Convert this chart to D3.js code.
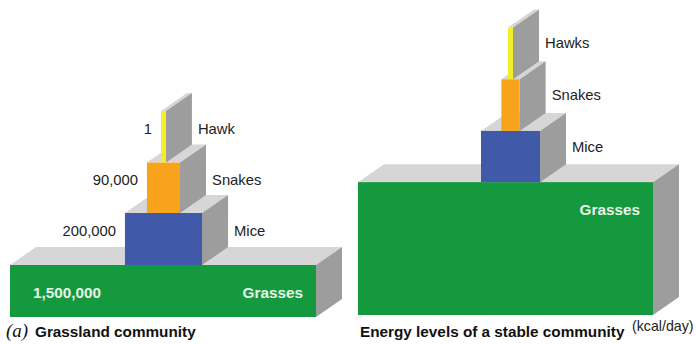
<!DOCTYPE html>
<html>
<head>
<meta charset="utf-8">
<script src="https://cdn.jsdelivr.net/npm/d3@7/dist/d3.min.js"></script>
<style>
  html, body { margin: 0; padding: 0; background: #fff; }
  svg { display: block; font-family: "Liberation Sans", Arial, Helvetica, sans-serif; }
</style>
</head>
<body>
<svg id="chart" width="696" height="344"></svg>
<script>
// Grassland community: numbers of organisms per trophic level
const grassLevels = ["Grasses", "Mice", "Snakes", "Hawk"];
const grassValues = [1500000, 200000, 90000, 1];
const grassBreadth = [100, 25.2, 10.8, 1.6];      // relative breadth of each tier
const grassTier = [1, 1, 0.97, 0.99];             // relative height of each tier

// Stable community: energy levels (kcal/day)
const energyLevels = ["Grasses", "Mice", "Snakes", "Hawks"];
const energyBreadth = [100, 20, 6.2, 1.7];
const energyTier = [2.57, 0.99, 1, 1];

const colors = ["#15993e", "#4159a9", "#f8a31c", "#f3ee27"];
const sideColor = "#9d9d9d";
const topColor = "#d6d6d6";
const depth = { dx: 26, dy: -18 };

const svg = d3.select("#chart");
const fmt = d3.format(",");

function drawPyramid(cfg) {
  const g = svg.append("g");
  const xw = d3.scaleLinear().domain([0, 100]).range([0, cfg.baseWidth]);
  const yh = d3.scaleLinear().domain([0, 1]).range([0, cfg.unitHeight]);

  let bottom = cfg.bottom;
  const blocks = cfg.levels.map((name, i) => {
    const w = xw(cfg.breadth[i]);
    const h = yh(cfg.tier[i]);
    const cx = i === 0 ? cfg.baseCenter : cfg.stackCenter;
    const b = { name, i, x0: cx - w / 2, x1: cx + w / 2, y0: bottom - h, y1: bottom, value: cfg.values ? cfg.values[i] : null };
    bottom -= h;
    return b;
  });

  const { dx, dy } = depth;
  blocks.forEach(b => {
    const bg = g.append("g");
    // top face
    bg.append("path")
      .attr("d", `M${b.x0},${b.y0}L${b.x0 + dx},${b.y0 + dy}L${b.x1 + dx},${b.y0 + dy}L${b.x1},${b.y0}Z`)
      .attr("fill", topColor);
    // side face
    bg.append("path")
      .attr("d", `M${b.x1},${b.y0}L${b.x1 + dx},${b.y0 + dy}L${b.x1 + dx},${b.y1 + dy}L${b.x1},${b.y1}Z`)
      .attr("fill", sideColor);
    // front face
    bg.append("rect")
      .attr("x", b.x0).attr("y", b.y0)
      .attr("width", b.x1 - b.x0).attr("height", b.y1 - b.y0)
      .attr("fill", colors[b.i]);

    if (b.i === 0) {
      const ty = b.y0 + 27;
      bg.append("text")
        .attr("x", b.x1 - 13).attr("y", ty)
        .attr("text-anchor", "end").attr("dominant-baseline", "central")
        .attr("fill", "#e8f5e8").attr("font-weight", "bold").attr("font-size", 15.3)
        .text(b.name);
      if (b.value != null) {
        bg.append("text")
          .attr("x", b.x0 + 23).attr("y", ty)
          .attr("dominant-baseline", "central")
          .attr("fill", "#e8f5e8").attr("font-weight", "bold").attr("font-size", 15.3)
          .text(fmt(b.value));
      }
    } else {
      const my = (b.y0 + b.y1) / 2 + cfg.labelShift;
      bg.append("text")
        .attr("x", b.x1 + dx + 6).attr("y", my)
        .attr("dominant-baseline", "central")
        .attr("fill", "#222").attr("font-size", 14.8)
        .text(b.name);
      if (b.value != null) {
        bg.append("text")
          .attr("x", b.x0 - 9).attr("y", my)
          .attr("text-anchor", "end").attr("dominant-baseline", "central")
          .attr("fill", "#222").attr("font-size", 14.8)
          .text(fmt(b.value));
      }
    }
  });
  return g;
}

drawPyramid({
  levels: grassLevels, values: grassValues, breadth: grassBreadth, tier: grassTier,
  baseWidth: 306, unitHeight: 52, bottom: 317, baseCenter: 163, stackCenter: 163.5,
  labelShift: -8
});

drawPyramid({
  levels: energyLevels, values: null, breadth: energyBreadth, tier: energyTier,
  baseWidth: 295, unitHeight: 51.7, bottom: 315, baseCenter: 505.5, stackCenter: 510.5,
  labelShift: -10
});

// captions
const cap1 = svg.append("text").attr("x", 6).attr("y", 337).attr("fill", "#111");
cap1.append("tspan")
  .attr("font-family", "'Liberation Serif', 'Times New Roman', serif")
  .attr("font-style", "italic").attr("font-size", 19).text("(a)");
cap1.append("tspan").attr("x", 35)
  .attr("font-weight", "bold").attr("font-size", 15.3).text("Grassland community");

svg.append("text").attr("x", 360).attr("y", 337)
  .attr("fill", "#111").attr("font-weight", "bold").attr("font-size", 15.3)
  .text("Energy levels of a stable community");
svg.append("text").attr("x", 632).attr("y", 331)
  .attr("fill", "#222").attr("font-size", 14.2)
  .text("(kcal/day)");
</script>
</body>
</html>
